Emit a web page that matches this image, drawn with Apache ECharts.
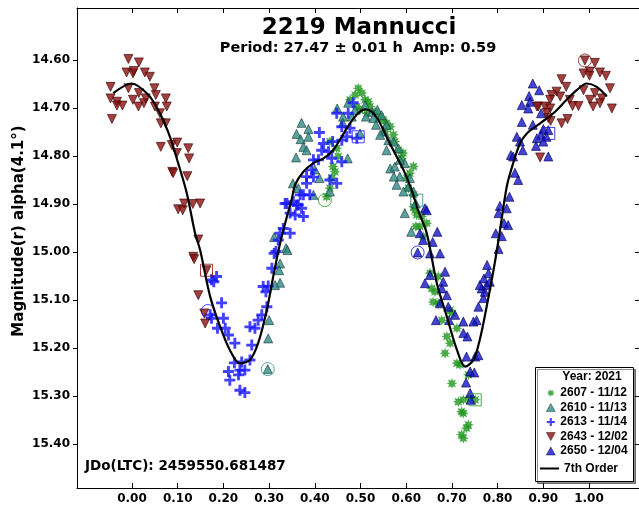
<!DOCTYPE html>
<html>
<head>
<meta charset="utf-8">
<script src="https://cdn.jsdelivr.net/npm/echarts@6/dist/echarts.min.js"></script>
<style>
  html, body { margin: 0; padding: 0; background: #fff; }
  #main { width: 639px; height: 509px; }
</style>
</head>
<body>
<div id="main"></div>
<script>
// phase / magnitude pairs
var s2607 = [[0.495,14.659],[0.503,14.669],[0.488,14.673],[0.477,14.683],[0.510,14.683],[0.517,14.687],[0.492,14.697],[0.499,14.704],[0.514,14.711],[0.532,14.708],[0.543,14.718],[0.550,14.725],[0.557,14.732],[0.565,14.739],[0.554,14.749],[0.572,14.756],[0.575,14.770],[0.583,14.788],[0.590,14.805],[0.616,14.822],[0.608,14.836],[0.601,14.846],[0.605,14.867],[0.616,14.881],[0.619,14.913],[0.623,14.923],[0.634,14.926],[0.630,14.947],[0.645,14.940],[0.433,14.770],[0.448,14.784],[0.451,14.801],[0.440,14.822],[0.444,14.833],[0.437,14.846],[0.433,14.867],[0.426,14.885],[0.521,14.697],[0.593,14.794],[0.616,14.906],[0.621,14.947],[0.637,14.968],[0.652,15.044],[0.670,15.051],[0.656,15.076],[0.663,15.083],[0.659,15.104],[0.670,15.107],[0.696,15.121],[0.700,15.128],[0.678,15.142],[0.711,15.159],[0.689,15.176],[0.696,15.190],[0.685,15.211],[0.711,15.232],[0.718,15.235],[0.736,15.256],[0.700,15.274],[0.714,15.312],[0.725,15.308],[0.740,15.305],[0.751,15.308],[0.721,15.333],[0.725,15.336],[0.736,15.360],[0.732,15.367],[0.721,15.381],[0.725,15.388]];
var s2610 = [[0.311,14.969],[0.337,14.992],[0.340,14.996],[0.324,15.024],[0.322,15.038],[0.324,15.064],[0.313,15.069],[0.300,15.142],[0.298,15.180],[0.297,15.244],[0.371,14.731],[0.386,14.744],[0.360,14.754],[0.369,14.765],[0.386,14.760],[0.375,14.781],[0.382,14.788],[0.359,14.803],[0.449,14.701],[0.462,14.718],[0.461,14.731],[0.473,14.689],[0.481,14.718],[0.499,14.753],[0.472,14.805],[0.400,14.828],[0.410,14.846],[0.352,14.857],[0.364,14.867],[0.397,14.881],[0.433,14.874],[0.488,14.704],[0.510,14.694],[0.525,14.708],[0.512,14.718],[0.528,14.721],[0.537,14.704],[0.546,14.715],[0.534,14.735],[0.557,14.735],[0.550,14.749],[0.561,14.767],[0.572,14.770],[0.557,14.788],[0.583,14.784],[0.565,14.826],[0.575,14.822],[0.597,14.815],[0.586,14.843],[0.579,14.860],[0.608,14.846],[0.605,14.864],[0.594,14.874],[0.616,14.874],[0.621,14.899],[0.597,14.919],[0.611,14.958],[0.543,14.756],[0.586,14.808],[0.573,14.843]];
var s2613 = [[0.185,15.051],[0.174,15.058],[0.179,15.062],[0.196,15.106],[0.171,15.131],[0.174,15.138],[0.200,15.138],[0.187,15.159],[0.204,15.159],[0.211,15.173],[0.225,15.190],[0.224,15.231],[0.240,15.229],[0.258,15.225],[0.211,15.249],[0.214,15.267],[0.236,15.246],[0.247,15.246],[0.233,15.256],[0.236,15.288],[0.247,15.293],[0.262,15.194],[0.258,15.156],[0.269,15.159],[0.276,15.142],[0.284,15.131],[0.287,15.072],[0.298,15.071],[0.293,15.083],[0.306,15.034],[0.311,15.003],[0.315,14.999],[0.339,14.899],[0.360,14.902],[0.371,14.909],[0.346,14.919],[0.357,14.923],[0.375,14.926],[0.324,14.961],[0.346,14.961],[0.320,14.975],[0.295,15.114],[0.484,14.689],[0.448,14.711],[0.473,14.711],[0.459,14.739],[0.477,14.742],[0.410,14.751],[0.470,14.760],[0.459,14.767],[0.439,14.770],[0.419,14.774],[0.492,14.763],[0.415,14.788],[0.430,14.791],[0.397,14.808],[0.408,14.808],[0.437,14.805],[0.459,14.812],[0.393,14.829],[0.382,14.843],[0.397,14.844],[0.433,14.850],[0.448,14.857],[0.382,14.857],[0.368,14.881],[0.375,14.881],[0.389,14.881],[0.335,14.899],[0.353,14.895],[0.364,14.902],[0.331,14.951]];
var s2643 = [[-0.047,14.656],[-0.047,14.680],[-0.044,14.723],[-0.033,14.687],[-0.033,14.695],[-0.021,14.695],[-0.008,14.598],[-0.012,14.626],[0.002,14.628],[0.004,14.623],[0.015,14.605],[-0.008,14.659],[0.002,14.683],[0.015,14.669],[0.014,14.697],[0.026,14.690],[0.030,14.680],[0.028,14.626],[0.039,14.635],[0.049,14.659],[0.052,14.673],[0.050,14.697],[0.061,14.711],[0.074,14.680],[0.076,14.697],[0.063,14.732],[0.074,14.732],[0.063,14.781],[0.087,14.777],[0.099,14.772],[0.098,14.794],[0.123,14.784],[0.125,14.805],[0.088,14.833],[0.090,14.836],[0.121,14.842],[0.101,14.911],[0.111,14.913],[0.114,14.899],[0.133,14.900],[0.149,14.899],[0.145,14.974],[0.134,15.010],[0.136,15.015],[0.163,15.038],[0.145,15.090],[0.158,15.128],[0.160,15.149],
  [0.991,14.601],[1.013,14.606],[0.988,14.628],[1.002,14.624],[1.001,14.633],[1.024,14.626],[1.037,14.633],[0.940,14.640],[0.950,14.656],[0.929,14.666],[0.918,14.673],[0.937,14.676],[0.915,14.683],[0.958,14.683],[0.964,14.696],[0.977,14.696],[0.988,14.663],[1.013,14.669],[1.002,14.683],[1.028,14.680],[1.024,14.690],[1.009,14.697],[1.046,14.659],[1.050,14.701],[0.889,14.697],[0.904,14.697],[0.915,14.701],[0.907,14.710],[0.916,14.727],[0.940,14.732],[0.953,14.723],[0.893,14.803],[0.886,14.697],[0.911,14.721]];
var s2650 = [[0.877,14.649],[0.891,14.663],[0.869,14.675],[0.871,14.687],[0.853,14.694],[0.867,14.701],[0.895,14.711],[0.853,14.729],[0.877,14.735],[0.900,14.744],[0.911,14.746],[0.895,14.756],[0.907,14.760],[0.886,14.763],[0.842,14.760],[0.849,14.770],[0.900,14.770],[0.884,14.779],[0.855,14.788],[0.829,14.798],[0.834,14.801],[0.911,14.801],[0.838,14.835],[0.845,14.850],[0.826,14.885],[0.805,14.904],[0.802,14.919],[0.820,14.909],[0.814,14.940],[0.823,14.944],[0.796,14.961],[0.809,14.967],[0.802,14.994],[0.641,14.909],[0.645,14.913],[0.630,14.961],[0.637,14.975],[0.668,14.958],[0.658,14.979],[0.674,15.003],[0.625,15.001],[0.652,15.003],[0.685,15.041],[0.652,15.048],[0.641,15.065],[0.681,15.062],[0.678,15.076],[0.689,15.090],[0.674,15.107],[0.692,15.114],[0.707,15.131],[0.665,15.142],[0.694,15.142],[0.725,15.145],[0.754,15.142],[0.747,15.145],[0.758,15.114],[0.725,15.169],[0.734,15.176],[0.732,15.218],[0.751,15.218],[0.758,15.215],[0.740,15.249],[0.749,15.251],[0.731,15.272],[0.740,15.294],[0.741,15.308],[0.769,15.096],[0.765,15.076],[0.772,15.083],[0.761,15.069],[0.776,15.069],[0.770,15.055],[0.780,15.044],[0.783,15.062],[0.777,15.027]];

// first / last point of each session (circle = first, square = last)
var firstPts = [[0.422,14.892],[0.297,15.244],[0.166,15.123],[0.991,14.601],[0.625,15.001]];
var lastPts  = [[0.751,15.308],[0.623,14.892],[0.495,14.760],[0.163,15.038],[0.912,14.753]];

// 7th order Fourier fit
var fitCurve = [[-0.041,14.669],[-0.001,14.649],[0.036,14.673],[0.061,14.711],[0.083,14.760],[0.101,14.815],[0.120,14.878],[0.138,14.961],[0.149,14.996],[0.171,15.093],[0.193,15.156],[0.214,15.204],[0.236,15.232],[0.258,15.225],[0.276,15.190],[0.295,15.121],[0.309,15.051],[0.324,14.982],[0.339,14.926],[0.349,14.892],[0.357,14.860],[0.375,14.833],[0.397,14.815],[0.419,14.805],[0.440,14.788],[0.459,14.760],[0.477,14.732],[0.495,14.711],[0.510,14.703],[0.525,14.708],[0.539,14.725],[0.557,14.760],[0.575,14.794],[0.594,14.829],[0.612,14.871],[0.626,14.913],[0.645,14.961],[0.667,15.065],[0.689,15.135],[0.711,15.204],[0.729,15.239],[0.747,15.225],[0.761,15.183],[0.776,15.114],[0.791,15.038],[0.802,14.975],[0.820,14.864],[0.834,14.815],[0.849,14.774],[0.864,14.753],[0.893,14.732],[0.922,14.711],[0.951,14.683],[0.973,14.663],[0.995,14.649],[1.017,14.656],[1.039,14.676]];

var sessions = ['2607 - 11/12', '2610 - 11/13', '2613 - 11/14', '2643 - 12/02', '2650 - 12/04'];
var sessionColors = ['#1e961e', '#2e8c84', '#1414ff', '#8b1010', '#1414cc'];
var xTicks = [0, 0.1, 0.2, 0.3, 0.4, 0.5, 0.6, 0.7, 0.8, 0.9, 1.0];
var yTicks = [14.6, 14.7, 14.8, 14.9, 15.0, 15.1, 15.2, 15.3, 15.4];

var starPath = 'path://M10,5L7.5,5.9L8.54,8.54L5.9,7.5L5,10L4.1,7.5L1.46,8.54L2.5,5.9L0,5L2.5,4.1L1.46,1.46L4.1,2.5L5,0L5.9,2.5L8.54,1.46L7.5,4.1Z';
var plusPath = 'path://M3.7,0H6.3V3.7H10V6.3H6.3V10H3.7V6.3H0V3.7H3.7Z';
var downTri = 'path://M0,0L10,0L5,9Z';
var sessionSymbols = [starPath, 'triangle', plusPath, downTri, 'triangle'];

var tickFont = { fontFamily: 'DejaVu Sans', fontWeight: 'bold', fontSize: 12, color: '#000' };
var legendFont = { fontFamily: 'Liberation Sans', fontWeight: 'bold', fontSize: 12, color: '#000' };

var chart = echarts.init(document.getElementById('main'));
chart.setOption({
  backgroundColor: '#fff',
  animation: false,
  grid: { left: 77, top: 8, right: -1, bottom: 21, outerBoundsMode: 'none' },
  xAxis: [{
    type: 'value', position: 'bottom',
    min: -0.1204, max: 1.1116,
    axisLine: { show: true, onZero: false, lineStyle: { color: '#000', width: 1 } },
    axisTick: { show: true, inside: true, length: 5, customValues: xTicks, lineStyle: { color: '#000' } },
    axisLabel: { margin: 5, customValues: xTicks, formatter: function (v) { return v.toFixed(2); }, ...tickFont },
    splitLine: { show: false }
  }, {
    type: 'value', position: 'top',
    min: -0.1204, max: 1.1116,
    axisLine: { show: true, onZero: false, lineStyle: { color: '#000', width: 1 } },
    axisTick: { show: true, inside: true, length: 5, customValues: xTicks, lineStyle: { color: '#000' } },
    axisLabel: { show: false },
    splitLine: { show: false }
  }],
  yAxis: [{
    type: 'value', position: 'left', inverse: true,
    min: 14.4917, max: 15.4917,
    name: 'Magnitude(r) alpha(4.1°)',
    nameLocation: 'middle', nameGap: 50, nameMoveOverlap: false,
    nameTextStyle: { fontFamily: 'DejaVu Sans', fontWeight: 'bold', fontSize: 15, color: '#000', padding: [0, 0, 0, 34] },
    axisLine: { show: true, onZero: false, lineStyle: { color: '#000', width: 1 } },
    axisTick: { show: true, inside: false, length: 4, customValues: yTicks, lineStyle: { color: '#000' } },
    axisLabel: { margin: 7, customValues: yTicks, formatter: function (v) { return v.toFixed(2); }, ...tickFont },
    splitLine: { show: false }
  }, {
    type: 'value', position: 'right', inverse: true,
    min: 14.4917, max: 15.4917,
    axisLine: { show: true, onZero: false, lineStyle: { color: '#000', width: 1 } },
    axisTick: { show: true, inside: true, length: 5, customValues: yTicks, lineStyle: { color: '#000' } },
    axisLabel: { show: false },
    splitLine: { show: false }
  }],
  legend: [{
    orient: 'vertical', left: 541, top: 382,
    itemWidth: 9, itemHeight: 8, itemGap: 2.5,
    data: sessions.map(function (s, i) { return { name: s, icon: sessionSymbols[i] }; }),
    itemStyle: { borderWidth: 0.6 },
    textStyle: legendFont,
    z: 20
  }, {
    orient: 'vertical', left: 535, top: 457.5,
    itemWidth: 19, itemHeight: 2,
    data: [{ name: '7th Order', icon: 'rect' }],
    textStyle: legendFont,
    z: 20
  }],
  graphic: [
    { type: 'rect', shape: { x: 535.5, y: 367.5, width: 98, height: 114 },
      style: { fill: '#fff', stroke: '#000', lineWidth: 1, shadowColor: 'rgba(0,0,0,0.45)', shadowOffsetX: 2, shadowOffsetY: 2, shadowBlur: 0 }, z: 10 },
    { type: 'text', x: 592, y: 377, z: 21,
      style: { text: 'Year: 2021', align: 'center', verticalAlign: 'middle', font: 'bold 12px "Liberation Sans"', fill: '#000' } },
    { type: 'text', x: 359, y: 28.5, z: 21,
      style: { text: '2219 Mannucci', align: 'center', verticalAlign: 'middle', font: 'bold 23px "DejaVu Sans"', fill: '#000' } },
    { type: 'text', x: 358, y: 48, z: 21,
      style: { text: 'Period: 27.47 ± 0.01 h  Amp: 0.59', align: 'center', verticalAlign: 'middle', font: 'bold 14.5px "DejaVu Sans"', fill: '#000' } },
    { type: 'text', x: 85, y: 466, z: 21,
      style: { text: 'JDo(LTC): 2459550.681487', align: 'left', verticalAlign: 'middle', font: 'bold 13.5px "DejaVu Sans"', fill: '#000' } }
  ],
  series: [
    { name: sessions[0], type: 'scatter', data: s2607, symbol: sessionSymbols[0], symbolSize: 11,
      itemStyle: { color: sessionColors[0] } },
    { name: sessions[1], type: 'scatter', data: s2610, symbol: sessionSymbols[1], symbolSize: 9,
      itemStyle: { color: sessionColors[1], borderColor: '#1b3b38', borderWidth: 0.8 } },
    { name: sessions[2], type: 'scatter', data: s2613, symbol: sessionSymbols[2], symbolSize: 11,
      itemStyle: { color: sessionColors[2] } },
    { name: sessions[3], type: 'scatter', data: s2643, symbol: sessionSymbols[3], symbolSize: 9,
      itemStyle: { color: sessionColors[3], borderColor: '#3a0000', borderWidth: 0.8 } },
    { name: sessions[4], type: 'scatter', data: s2650, symbol: sessionSymbols[4], symbolSize: 9,
      itemStyle: { color: sessionColors[4], borderColor: '#000050', borderWidth: 0.8 } },
    { name: 'first', type: 'scatter', symbol: 'circle', symbolSize: 13,
      data: firstPts.map(function (p, i) { return { value: p, itemStyle: { borderColor: sessionColors[i] } }; }),
      itemStyle: { color: 'transparent', borderWidth: 1 } },
    { name: 'last', type: 'scatter', symbol: 'rect', symbolSize: 12,
      data: lastPts.map(function (p, i) { return { value: p, itemStyle: { borderColor: sessionColors[i] } }; }),
      itemStyle: { color: 'transparent', borderWidth: 1 } },
    { name: '7th Order', type: 'line', data: fitCurve, smooth: 0.3, showSymbol: false, symbol: 'none',
      lineStyle: { color: '#000', width: 2.2 }, itemStyle: { color: '#000' }, z: 5 }
  ]
});
</script>
</body>
</html>
